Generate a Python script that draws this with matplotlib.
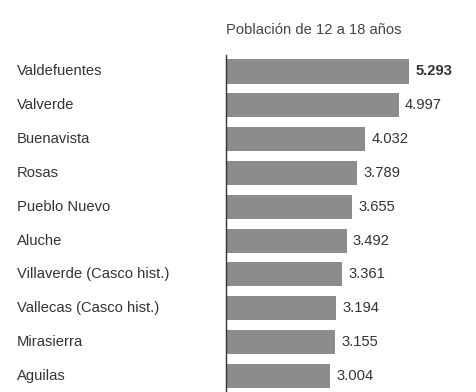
import matplotlib.pyplot as plt
from matplotlib.transforms import blended_transform_factory

barrios = ["Valdefuentes", "Valverde", "Buenavista", "Rosas", "Pueblo Nuevo",
           "Aluche", "Villaverde (Casco hist.)", "Vallecas (Casco hist.)",
           "Mirasierra", "Aguilas"]
poblacion = [5293, 4997, 4032, 3789, 3655, 3492, 3361, 3194, 3155, 3004]
titulo = "Población de 12 a 18 años"

plt.rcParams['font.family'] = ['Liberation Sans', 'DejaVu Sans']

W, H = 476, 392
fig = plt.figure(figsize=(W / 100, H / 100), dpi=100)
# eje desde x=226 px, y de 55 px hasta abajo
ax = fig.add_axes([226 / W, 0, 250 / W, 1 - 55 / H])

pos = list(range(len(barrios)))
ax.barh(pos, poblacion, height=0.71, color="#8c8c8c")
ax.set_xlim(0, 5293 * 250 / 183)
ax.set_ylim(9.48, -0.488)

for s in ["top", "right", "bottom"]:
    ax.spines[s].set_visible(False)
ax.spines["left"].set_color("#333333")
ax.spines["left"].set_linewidth(1)
ax.set_xticks([])
ax.set_yticks([])

fs = 10.6
tr = blended_transform_factory(fig.transFigure, ax.transData)
for i, (b, v) in enumerate(zip(barrios, poblacion)):
    ax.text(17 / W, i, b, transform=tr, ha="left", va="center",
            fontsize=fs, color="#333333")
    ax.annotate(f"{v:,}".replace(",", "."), xy=(v, i), xytext=(4.5, 0),
                textcoords="offset points", ha="left", va="center",
                fontsize=fs, color="#333333",
                fontweight="bold" if i == 0 else "normal")

fig.text(226 / W, 1 - 30 / H, titulo, ha="left", va="center",
         fontsize=fs, color="#444444")

fig.savefig("out.png", dpi=100)
